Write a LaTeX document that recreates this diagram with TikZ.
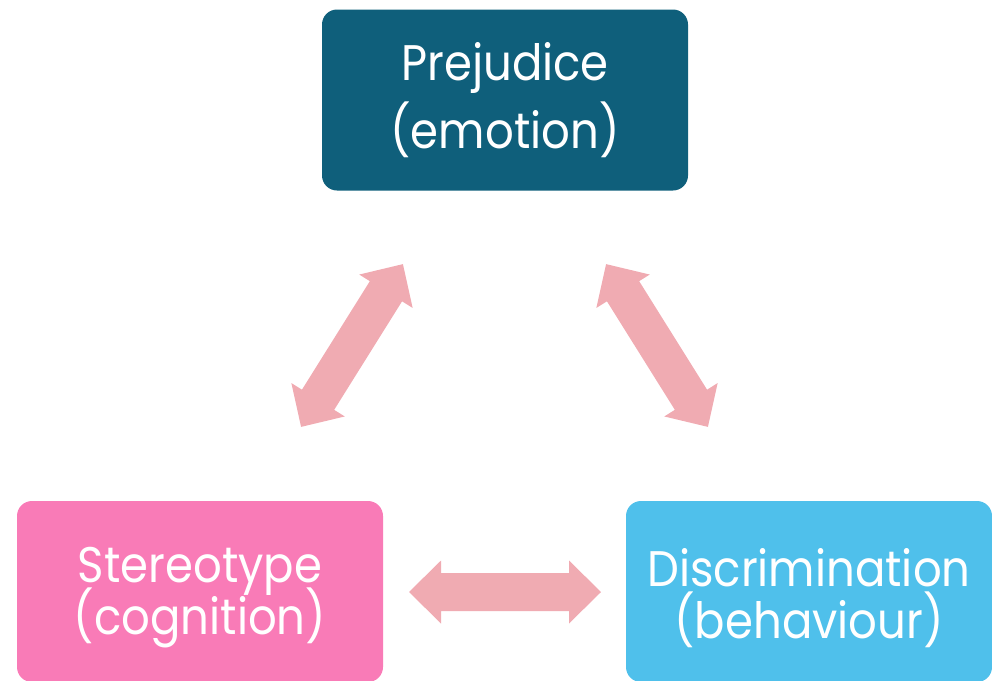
\documentclass[tikz,border=0pt]{standalone}
\usepackage{fontspec}
\setmainfont{Poppins}[FakeStretch=0.9]
\definecolor{tealbox}{HTML}{0F5F7B}
\definecolor{pinkbox}{HTML}{F97BB7}
\definecolor{bluebox}{HTML}{4FC0EB}
\definecolor{arrowpink}{HTML}{F0ABB2}
\newcommand\tightlines{\lineskiplimit-100pt\relax}
\tikzset{
  box/.style={rounded corners=15pt, minimum width=366pt, minimum height=181pt,
    inner sep=0pt, text=white, align=center},
  boxtext/.style={inner sep=0pt, text=white, align=center},
  toptext/.style={font={\fontsize{50}{68}\selectfont\tightlines}},
  lowtext/.style={font={\fontsize{50}{52}\selectfont\tightlines}},
  linkarrow/.style={fill=arrowpink}
}
% broad double-headed arrow between two named points
\newcommand\broadlink[2]{%
  \path let \p1=(#1), \p2=(#2), \n1={atan2(\y2-\y1,\x2-\x1)} in
    coordinate (mid) at ($(#1)!0.5!(#2)$)
    [linkarrow, shift={(mid)}, rotate=\n1]
    (-96,0) -- (-64,31.5) -- (-64,19) -- (64,19) -- (64,31.5) -- (96,0)
    -- (64,-31.5) -- (64,-19) -- (-64,-19) -- (-64,-31.5) -- cycle;}
\usetikzlibrary{calc}
\begin{document}
\begin{tikzpicture}[x=1pt, y=1pt]
\useasboundingbox (0,0) rectangle (992,-680);
\begin{scope}
\clip (0,0) rectangle (992,-680);
\node[box, fill=tealbox, toptext] (prej) at (505,-100) {Prejudice\\(emotion)};
% the lower boxes end just at the bottom edge
\node[box, fill=pinkbox] (ster) at (200,-591.5) {};
\node[box, fill=bluebox] (disc) at (809,-591.5) {};
\node[boxtext, lowtext] (stert) at (200,-598) {Stereotype\\(cognition)};
\node[boxtext, lowtext] (disct) at (809,-598) {Discrimination\\(behaviour)};
\end{scope}
% arrow end points
\coordinate (l1) at (301,-427);
\coordinate (l2) at (403,-264);
\coordinate (r1) at (606,-264);
\coordinate (r2) at (708,-427);
\coordinate (h1) at (409,-592);
\coordinate (h2) at (601,-592);
\broadlink{l1}{l2}
\broadlink{r1}{r2}
\broadlink{h1}{h2}
\end{tikzpicture}
\end{document}
